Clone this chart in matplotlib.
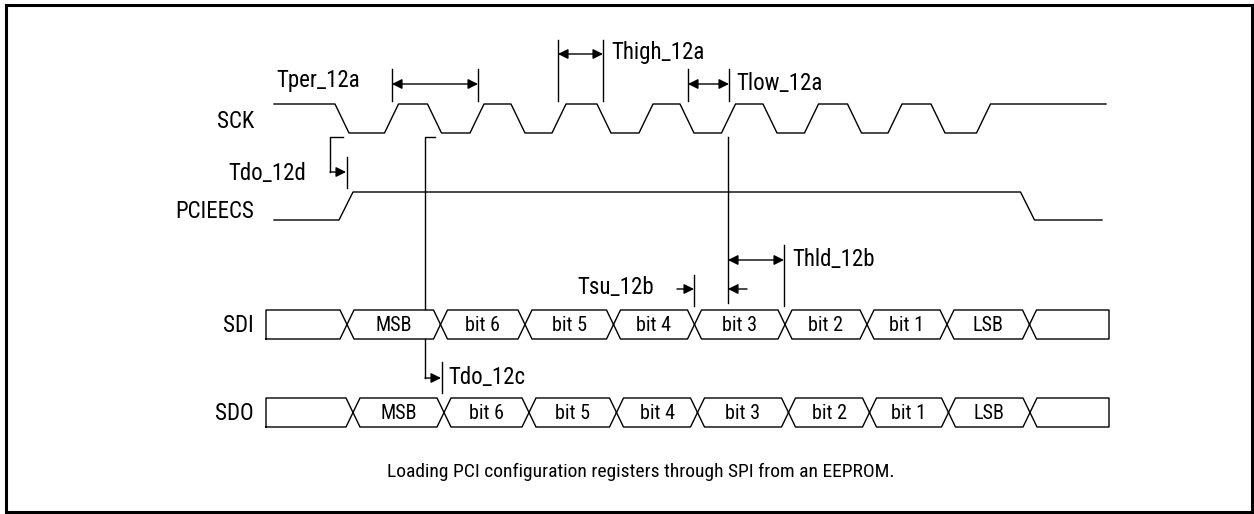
import matplotlib.pyplot as plt
from matplotlib.patches import Rectangle

# Signalnavn
signals = ["SCK", "PCIEECS", "SDI", "SDO"]

# SCK: fallende og stigende flanker (midtpunkt, i tidsenheter = piksler)
sck_fall = [342, 434.5, 518, 604, 687, 770, 854.5, 938]
sck_rise = [391.5, 477, 559, 646, 728.5, 811.5, 895, 983.5]
sck_span = [274, 1106]

# PCIEECS: stiger ved start, faller på slutten
cs_rise = 346
cs_fall = 1027.5
cs_span = [274, 1102]

# Databussene: overgangstider og bit-navn
bits = ["", "MSB", "bit 6", "bit 5", "bit 4", "bit 3", "bit 2", "bit 1", "LSB", ""]
sdi_edges = [266, 347, 440.5, 525, 613.5, 694.5, 785, 867, 947, 1029.5, 1109]
sdo_edges = [266, 353, 444, 529, 616.5, 697.5, 788.5, 869.5, 948.5, 1030, 1109]

caption = "Loading PCI configuration registers through SPI from an EEPROM."

FONT = ["Roboto Condensed", "Archivo Narrow", "DejaVu Sans"]
LW = 1.0
TR = 7  # halv overgangsbredde

fig = plt.figure(figsize=(12.54, 5.14), dpi=100)
ax = fig.add_axes([0, 0, 1, 1])
ax.set_xlim(0, 1254)
ax.set_ylim(514, 0)
ax.axis("off")

# ramme
ax.add_patch(Rectangle((6, 5), 1246, 507, fill=False, lw=2.2, ec="black"))


def digital(ax, edges, span, hi, lo, start_high):
    # tegner et digitalt signal med skrå flanker
    xs = [span[0]]
    level = hi if start_high else lo
    ys = [level]
    for e in edges:
        xs += [e - TR, e + TR]
        new = lo if level == hi else hi
        ys += [level, new]
        level = new
    xs.append(span[1])
    ys.append(level)
    ax.plot(xs, ys, color="black", lw=LW)


def bus(ax, edges, labels, top, bot, fs):
    mid = (top + bot) / 2
    n = len(edges) - 1
    for i in range(n):
        a, b = edges[i], edges[i + 1]
        if i == 0:
            left = [(a, bot), (a, top)]
        else:
            left = [(a, mid), (a + TR, top)]
        if i == n - 1:
            right = [(b, top), (b, bot)]
        else:
            right = [(b - TR, top), (b, mid), (b - TR, bot)]
        if i == 0:
            pts = left + right + [(a, bot)]
        else:
            pts = left + right + [(a + TR, bot), (a, mid)]
        ax.plot([p[0] for p in pts], [p[1] for p in pts], color="black", lw=LW)
        if labels[i]:
            ax.text((a + b) / 2, mid + 1, labels[i], ha="center", va="center",
                    fontsize=fs, family=FONT)


# signaler
sck_edges = sorted(sck_fall + sck_rise)
digital(ax, sck_edges, sck_span, 104, 133, True)
digital(ax, [cs_rise, cs_fall], cs_span, 192, 220, False)
bus(ax, sdi_edges, bits, 310, 339, 14.5)
bus(ax, sdo_edges, bits, 398, 427, 14.5)

# signalnavn til venstre
for name, y in zip(signals, [121, 211, 325, 413]):
    ax.text(254, y, name, ha="right", va="center", fontsize=16.5, family=FONT)


def arrow(x0, x1, y, both=False):
    style = "<|-|>" if both else "-|>"
    ax.annotate("", xy=(x1, y), xytext=(x0, y),
                arrowprops=dict(arrowstyle=style, color="black", lw=LW,
                                mutation_scale=15, shrinkA=0, shrinkB=0))


def vline(x, y0, y1):
    ax.plot([x, x], [y0, y1], color="black", lw=LW)


def label(x, y, s, ha="left"):
    ax.text(x, y, s, ha=ha, va="center", fontsize=16.5, family=FONT)


# Tper_12a
vline(392, 69, 101)
vline(478, 69, 101)
arrow(392, 478, 84, both=True)
label(276, 81, "Tper_12a")

# Thigh_12a
vline(558, 40, 101)
vline(603, 40, 101)
arrow(558, 603, 54, both=True)
label(611, 53, "Thigh_12a")

# Tlow_12a
vline(688, 69, 101)
vline(729, 69, 101)
arrow(688, 729, 84, both=True)
label(736, 83, "Tlow_12a")

# Tdo_12d
ax.plot([343, 330, 330], [137, 137, 172], color="black", lw=LW)
arrow(330, 346, 172)
vline(347, 157, 188)
label(306, 173, "Tdo_12d", ha="right")

# referanselinje fra SCK til SDI, med Tdo_12c
ax.plot([435, 425, 425], [137, 137, 309], color="black", lw=LW)
ax.plot([425, 425], [339, 378], color="black", lw=LW)
arrow(425, 441, 378)
vline(442, 362, 393)
label(448, 377, "Tdo_12c")

# referanselinje ved bit 3, Tsu_12b og Thld_12b
vline(728, 137, 303)
vline(784, 245, 306)
arrow(728, 784, 260, both=True)
label(792, 259, "Thld_12b")
vline(694, 275, 306)
arrow(677, 694, 289)
arrow(747, 728, 289)
label(654, 287, "Tsu_12b", ha="right")

ax.text(641, 472, caption, ha="center", va="center", fontsize=14, family=FONT)

fig.savefig("out.png", dpi=100)
